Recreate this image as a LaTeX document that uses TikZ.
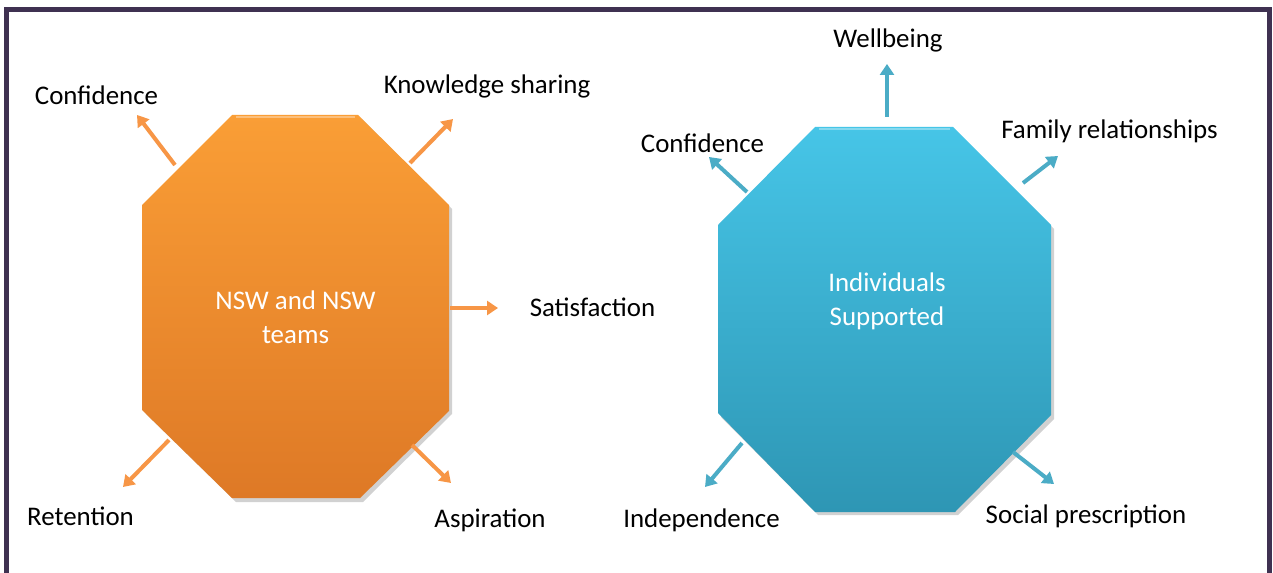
\documentclass[tikz,border=0pt]{standalone}
\usepackage{fontspec}
\setmainfont{Carlito}
\usetikzlibrary{arrows.meta}
\definecolor{frameclr}{RGB}{63,49,81}
\definecolor{orgtop}{RGB}{250,158,54}
\definecolor{orgbot}{RGB}{222,121,38}
\definecolor{orgarrow}{RGB}{247,150,70}
\definecolor{blutop}{RGB}{70,197,231}
\definecolor{blubot}{RGB}{46,150,180}
\definecolor{bluarrow}{RGB}{75,172,198}
\tikzset{
  lbl/.style={font=\fontsize{27}{34}\selectfont, text=black, inner sep=0pt},
  inner/.style={font=\fontsize{27}{34}\selectfont, text=white, align=center, inner sep=0pt},
  oarrow/.style={draw=orgarrow, line width=4bp, -{Triangle[width=14bp,length=11bp]}},
  barrow/.style={draw=bluarrow, line width=4bp, -{Triangle[width=14bp,length=11bp]}},
}
\begin{document}
\begin{tikzpicture}[x=1bp,y=-1bp]
\useasboundingbox (0,0) rectangle (1273,573);
\fill[white] (0,0) rectangle (1273,573);
% frame
\draw[frameclr, line width=5bp] (6.5,580) -- (6.5,9.5) -- (1269,9.5) -- (1269,580);

% orange octagon
\fill[black, opacity=0.18] (235,119) -- (362,119) -- (452,209) -- (452,414) -- (363,502) -- (236,502) -- (146,414) -- (146,209) -- cycle;
\shade[top color=orgtop, bottom color=orgbot]
  (232,115) -- (358,115) -- (449,205) -- (449,411) -- (360,498) -- (232,498) -- (142,410) -- (142,205) -- cycle;
\draw[white, opacity=0.35, line width=1.5bp] (236,117) -- (355,117);
\node[inner] (nsw) at (295.5,317) {NSW and NSW\\teams};

% blue octagon
\fill[black, opacity=0.18] (818,131) -- (956,131) -- (1054,229) -- (1054,419) -- (958,515) -- (818,515) -- (721,417) -- (721,229) -- cycle;
\shade[top color=blutop, bottom color=blubot]
  (815,127) -- (953,127) -- (1051,225) -- (1051,415) -- (955,512) -- (815,512) -- (718,413) -- (718,225) -- cycle;
\draw[white, opacity=0.35, line width=1.5bp] (819,129) -- (950,129);
\node[inner] (ind) at (887,301) {Individuals\\Supported};

% labels
\node[lbl] (conf1) at (96.5,95) {Confidence};
\node[lbl] (know) at (487,86) {Knowledge sharing};
\node[lbl] (sat) at (592.5,307) {Satisfaction};
\node[lbl] (ret) at (80.5,516) {Retention};
\node[lbl] (asp) at (490,520) {Aspiration};
\node[lbl] (well) at (888,40) {Wellbeing};
\node[lbl] (conf2) at (702.5,143) {Confidence};
\node[lbl] (fam) at (1109.5,131) {Family relationships};
\node[lbl] (indep) at (701.5,520) {Independence};
\node[lbl] (soc) at (1086,516) {Social prescription};

% arrow end points
\coordinate (o1a) at (175,165); \coordinate (o1b) at (137,115);
\coordinate (o2a) at (410,163); \coordinate (o2b) at (453,119);
\coordinate (o3a) at (450,308); \coordinate (o3b) at (498,308);
\coordinate (o4a) at (169,440); \coordinate (o4b) at (123,487);
\coordinate (o5a) at (412,445); \coordinate (o5b) at (451,483);
\coordinate (b1a) at (887,117); \coordinate (b1b) at (887,64);
\coordinate (b2a) at (747,192); \coordinate (b2b) at (709,157);
\coordinate (b3a) at (1023,183); \coordinate (b3b) at (1058,156);
\coordinate (b4a) at (742,443); \coordinate (b4b) at (705,487);
\coordinate (b5a) at (1013,452); \coordinate (b5b) at (1054,484);

\draw[oarrow] (o1a) -- (o1b);
\draw[oarrow] (o2a) -- (o2b);
\draw[oarrow] (o3a) -- (o3b);
\draw[oarrow] (o4a) -- (o4b);
\draw[oarrow] (o5a) -- (o5b);
\draw[barrow] (b1a) -- (b1b);
\draw[barrow] (b2a) -- (b2b);
\draw[barrow] (b3a) -- (b3b);
\draw[barrow] (b4a) -- (b4b);
\draw[barrow] (b5a) -- (b5b);
\end{tikzpicture}
\end{document}
